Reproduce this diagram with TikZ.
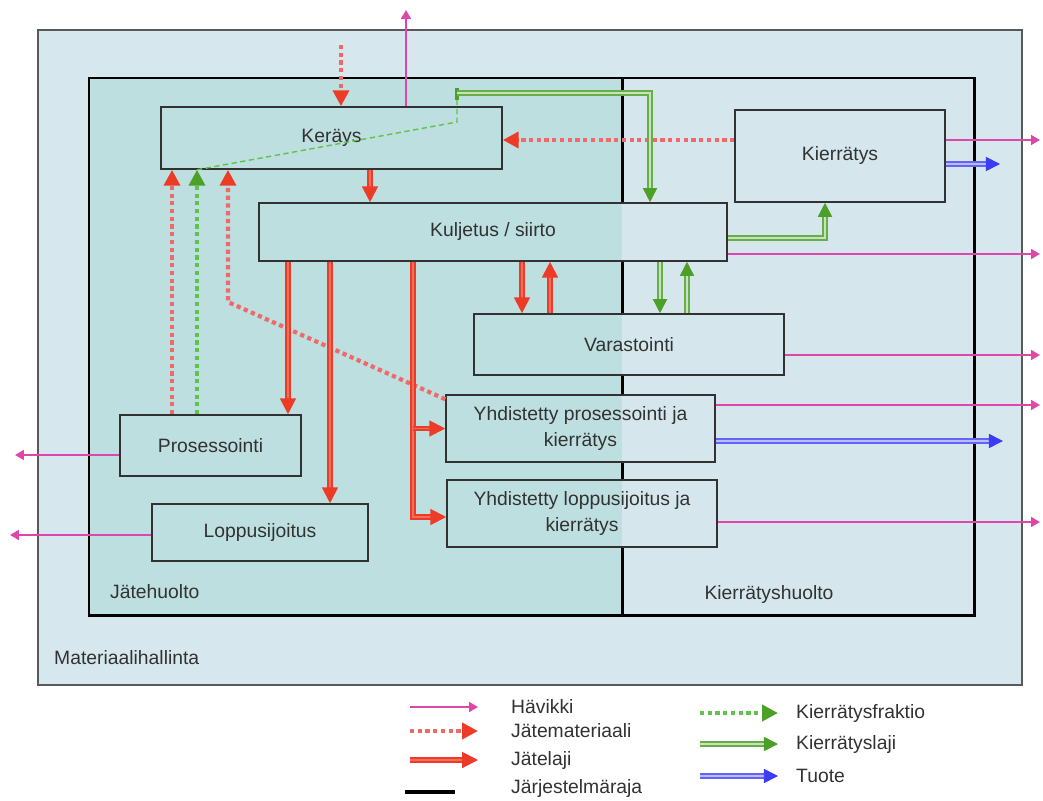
\documentclass[tikz,border=0pt]{standalone}
\usepackage{fontspec}
\setmainfont{Liberation Sans}
\usepackage{xcolor}
\usepackage{tikz}
\usetikzlibrary{positioning,calc,arrows.meta}

\definecolor{outerblue}{RGB}{214,232,238}
\definecolor{jateteal}{RGB}{189,223,224}
\definecolor{kierrblue}{RGB}{213,231,237}
\definecolor{havmag}{RGB}{222,70,170}
\definecolor{jatered}{RGB}{236,60,40}
\definecolor{jatedot}{RGB}{240,105,105}
\definecolor{kiergreen}{RGB}{76,160,40}
\definecolor{kierdot}{RGB}{95,195,75}
\definecolor{tuoteblue}{RGB}{60,60,245}
\definecolor{textgray}{RGB}{50,50,50}

\tikzset{
    box/.style={draw=textgray, line width=0.9pt, inner sep=2pt, align=center, text=textgray},
    lbl/.style={text=textgray},
    havikki/.style={draw=havmag, line width=1.1pt, -{Triangle[length=5pt,width=5.5pt]}},
    jatemat/.style={draw=jatedot, line width=2.4pt, dash pattern=on 2.4pt off 2pt,
        -{Triangle[length=9pt,width=9pt,color=jatered]}},
    jatelaji/.style={draw=jatered, line width=1.1pt, double=jatered!75!white, double distance=1.1pt,
        -{Triangle[length=9pt,width=9pt,color=jatered]}},
    kfraktio/.style={draw=kierdot, line width=2.4pt, dash pattern=on 2.4pt off 2pt,
        -{Triangle[length=9pt,width=9pt,color=kiergreen]}},
    klaji/.style={draw=kiergreen!85, line width=0.9pt, double=kiergreen!30!white, double distance=1.2pt,
        -{Triangle[length=8pt,width=8pt,color=kiergreen]}},
    tuote/.style={draw=tuoteblue!80, line width=0.9pt, double=tuoteblue!35!white, double distance=1.2pt,
        -{Triangle[length=8pt,width=8pt,color=tuoteblue]}},
    raja/.style={draw=black, line width=1.7pt}
}

\begin{document}
\begin{tikzpicture}[x=0.02cm, y=-0.02cm, every node/.style={font=\fontsize{11}{14.5}\selectfont}]
    \useasboundingbox (0,0) rectangle (1043,800);

    % Materiaalihallinta
    \draw[draw=gray!70!black, line width=1.1pt, fill=outerblue] (38,30) rectangle (1022,685);
    \node[lbl, anchor=west] (mhlabel) at (48,658) {Materiaalihallinta};

    % Jätehuolto / Kierrätyshuolto
    \fill[jateteal] (89,78) rectangle (622,615);
    \fill[kierrblue] (622,78) rectangle (974,615);
    \draw[raja] (89,78) rectangle (974,615);
    \node[lbl, anchor=west] (jhlabel) at (104,592) {Jätehuolto};
    \node[lbl] (khlabel) at (769,594) {Kierrätyshuolto};

    % Boxes
    \node[box, minimum width=6.82cm, minimum height=1.24cm] (keraeys) at (331.5,138) {Keräys};
    \node[box, minimum width=9.36cm, minimum height=1.16cm] (kuljetus) at (493,232) {Kuljetus / siirto};
    \node[box, minimum width=4.2cm, minimum height=1.84cm] (kierratys) at (840,156) {Kierrätys};
    \node[box, minimum width=6.2cm, minimum height=1.22cm] (varasto) at (629,344.5) {Varastointi};
    \node[box, minimum width=5.38cm, minimum height=1.34cm] (yhdpros) at (580.5,428.5) {Yhdistetty prosessointi ja\\kierrätys};
    \node[box, minimum width=5.4cm, minimum height=1.34cm] (yhdlopp) at (582,513.5) {Yhdistetty loppusijoitus ja\\kierrätys};
    \node[box, minimum width=3.62cm, minimum height=1.22cm] (prosessointi) at (210.5,445.5) {Prosessointi};
    \node[box, minimum width=4.32cm, minimum height=1.14cm] (loppu) at (260,532.5) {Loppusijoitus};

    % system border between the two parts
    \draw[raja] (622,78) -- (kuljetus.north -| 622,0)
        (kuljetus.south -| 622,0) -- (varasto.north -| 622,0)
        (varasto.south -| 622,0) -- (yhdpros.north -| 622,0)
        (yhdpros.south -| 622,0) -- (yhdlopp.north -| 622,0)
        (yhdlopp.south -| 622,0) -- (622,615);

    % Hävikki
    \coordinate (hvtop) at (406,10);
    \draw[havikki] (keraeys.north -| hvtop) -- (hvtop);
    \draw[havikki] (kierratys.east |- 0,140) -- (1040,140);
    \draw[havikki] (kuljetus.east |- 0,254) -- (1040,254);
    \draw[havikki] (varasto.east |- 0,355) -- (1040,355);
    \draw[havikki] (yhdpros.east |- 0,405) -- (1040,405);
    \draw[havikki] (yhdlopp.east |- 0,522) -- (1040,522);
    \draw[havikki] (prosessointi.west |- 0,455) -- (15,455);
    \draw[havikki] (loppu.west |- 0,535) -- (10,535);

    % Tuote
    \draw[tuote] (kierratys.east |- 0,164) -- (1000,164);
    \draw[tuote] (yhdpros.east |- 0,441) -- (1003,441);

    % Jätemateriaali
    \coordinate (jmtop) at (341,45);
    \draw[jatemat] (jmtop) -- (keraeys.north -| jmtop);
    \draw[jatemat] (kierratys.west |- 0,140) -- (keraeys.east |- 0,140);
    \draw[jatemat] (prosessointi.north -| 172,0) -- (keraeys.south -| 172,0);
    \draw[jatemat] ([yshift=-0.1cm]yhdpros.north west) -- (228,302) -- (keraeys.south -| 228,0);

    % Kierrätysfraktio
    \draw[kfraktio] (prosessointi.north -| 197,0) -- (keraeys.south -| 197,0);
    \draw[kierdot, line width=0.8pt, dash pattern=on 3pt off 2pt] (keraeys.south -| 197,0) -- (457,122) -- (457,95);
    \draw[kiergreen, line width=2pt] (457,88) -- (457,100);

    % Kierrätyslaji
    \draw[klaji] (457,93) -| (kuljetus.north -| 650,0);
    \draw[klaji] (kuljetus.east |- 0,238) -| (kierratys.south -| 825,0);
    \draw[klaji] (kuljetus.south -| 660,0) -- (varasto.north -| 660,0);
    \draw[klaji] (varasto.north -| 687,0) -- (kuljetus.south -| 687,0);

    % Jätelaji
    \draw[jatelaji] (keraeys.south -| 370,0) -- (kuljetus.north -| 370,0);
    \draw[jatelaji] (kuljetus.south -| 288,0) -- (prosessointi.north -| 288,0);
    \draw[jatelaji] (kuljetus.south -| 330,0) -- (loppu.north -| 330,0);
    \draw[jatelaji] (kuljetus.south -| 413,0) |- (yhdlopp.west |- 0,517);
    \draw[jatelaji] (yhdpros.west -| 413,0) -- (yhdpros.west);
    \draw[jatelaji] (kuljetus.south -| 522,0) -- (varasto.north -| 522,0);
    \draw[jatelaji] (varasto.north -| 550,0) -- (kuljetus.south -| 550,0);

    % Legend
    \node[lbl, anchor=west] (lhav) at (505,707) {Hävikki};
    \node[lbl, anchor=west] (ljm) at (505,731) {Jätemateriaali};
    \node[lbl, anchor=west] (ljl) at (505,760) {Jätelaji};
    \node[lbl, anchor=west] (lraja) at (505,788) {Järjestelmäraja};
    \node[lbl, anchor=west] (lkf) at (790,713) {Kierrätysfraktio};
    \node[lbl, anchor=west] (lkl) at (790,744) {Kierrätyslaji};
    \node[lbl, anchor=west] (ltuote) at (790,776) {Tuote};
    \draw[havikki] ([xshift=-1.9cm]lhav.west) -- ([xshift=-0.54cm]lhav.west);
    \draw[jatemat] ([xshift=-1.9cm]ljm.west) -- ([xshift=-0.54cm]ljm.west);
    \draw[jatelaji] ([xshift=-1.9cm]ljl.west) -- ([xshift=-0.54cm]ljl.west);
    \draw[raja, line width=2.8pt] ([xshift=-2cm,yshift=-0.08cm]lraja.west) -- ([xshift=-1cm,yshift=-0.08cm]lraja.west);
    \draw[kfraktio] ([xshift=-1.8cm]lkf.west) -- ([xshift=-0.24cm]lkf.west);
    \draw[klaji] ([xshift=-1.8cm]lkl.west) -- ([xshift=-0.24cm]lkl.west);
    \draw[tuote] ([xshift=-1.8cm]ltuote.west) -- ([xshift=-0.24cm]ltuote.west);
\end{tikzpicture}
\end{document}
